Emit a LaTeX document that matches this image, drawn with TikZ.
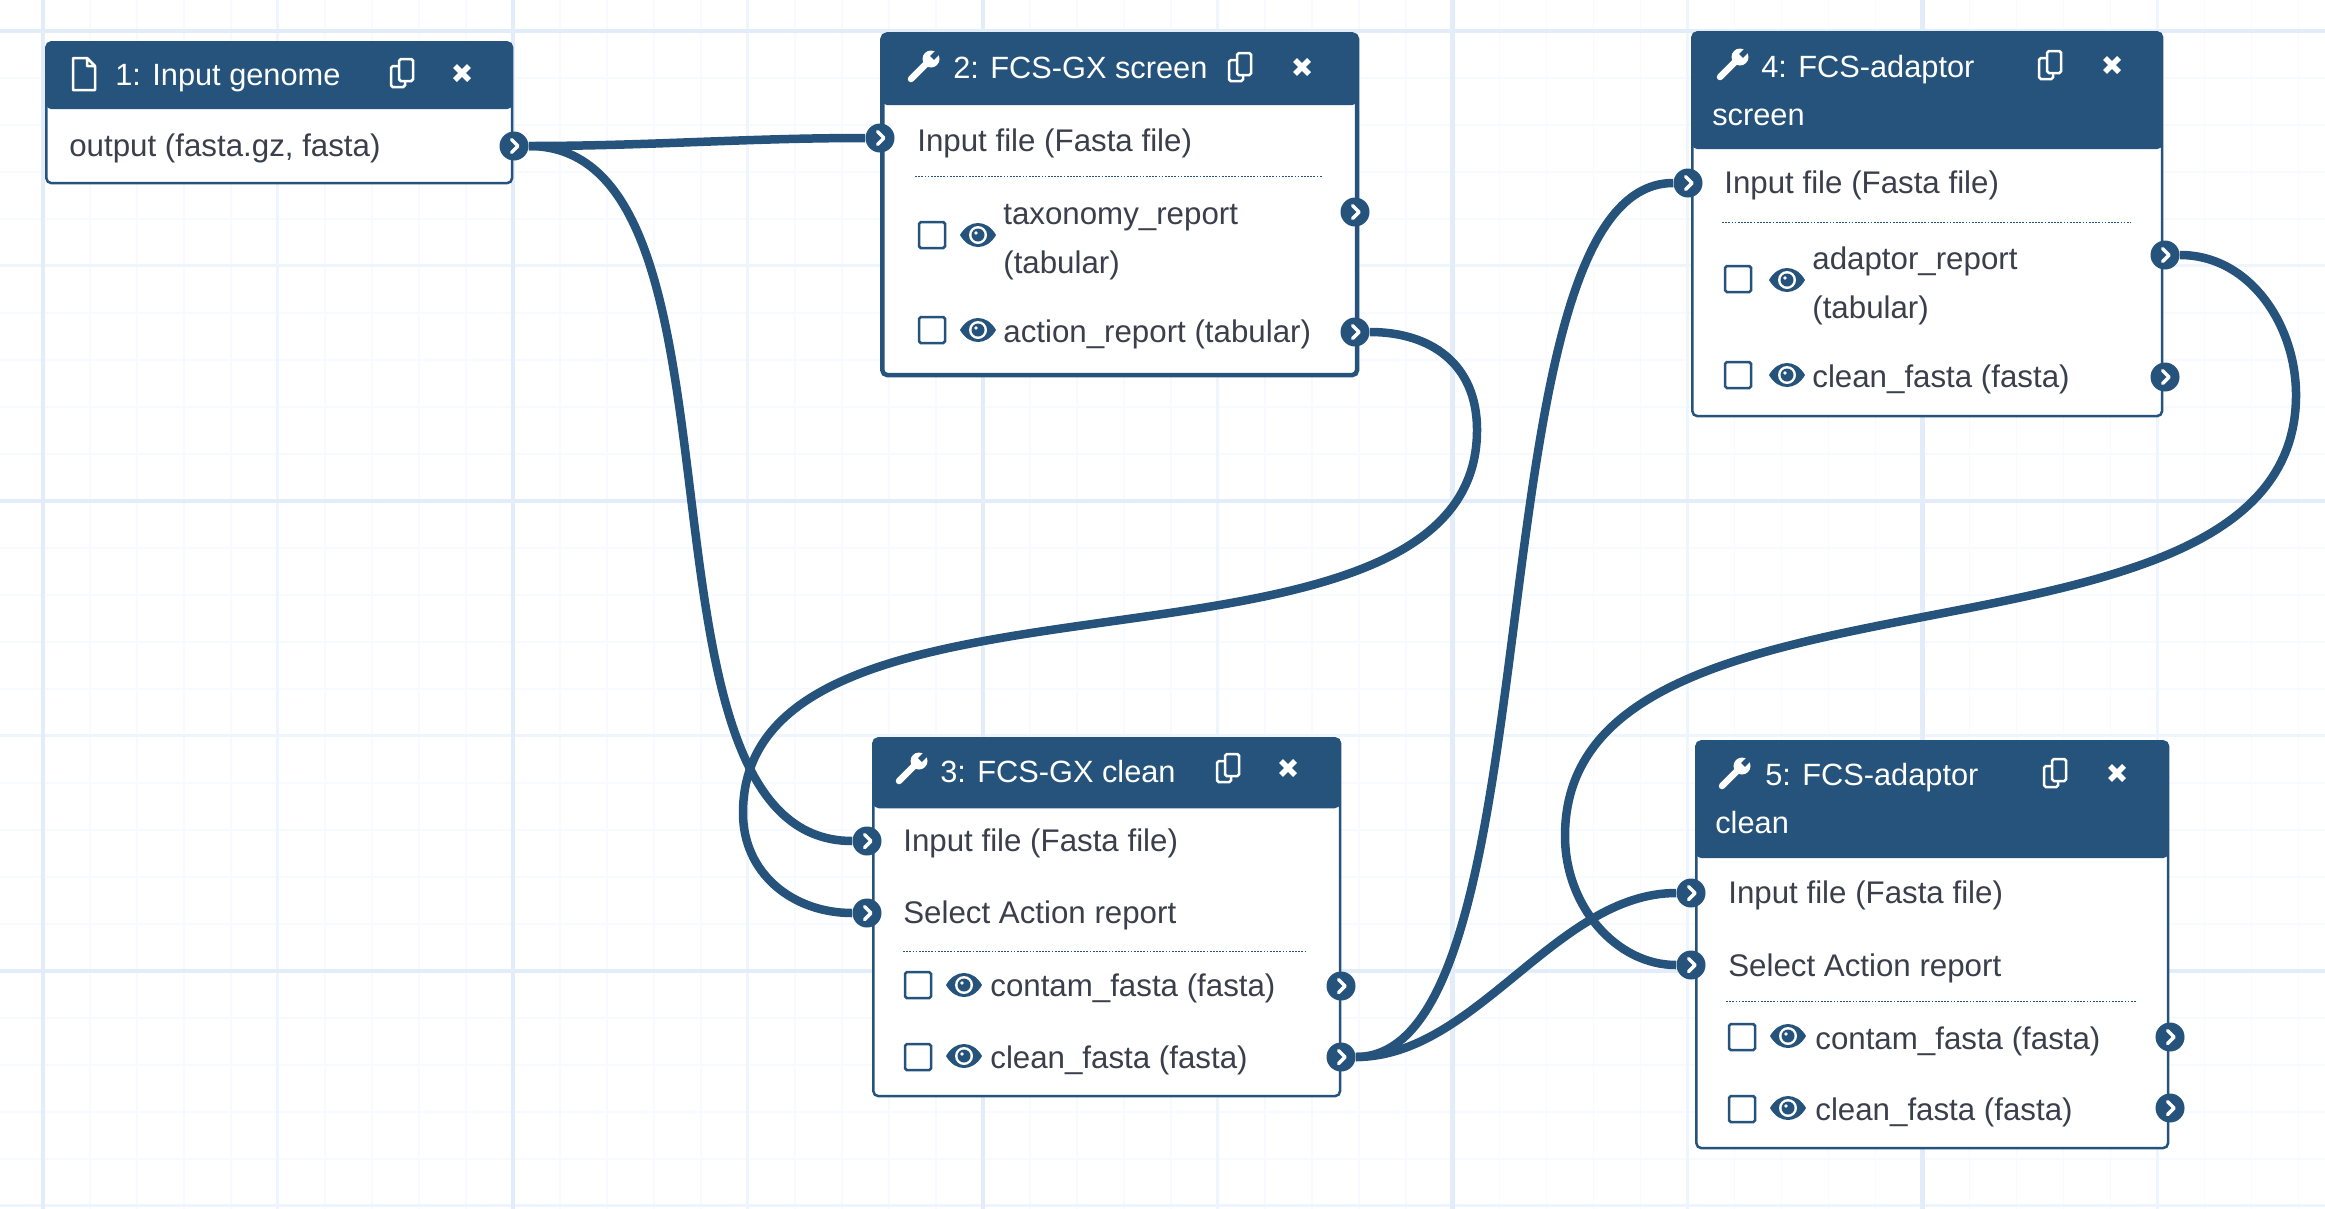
\documentclass[tikz,border=0pt]{standalone}
\usepackage{fontspec}
\setmainfont{Liberation Sans}
\definecolor{galaxy}{HTML}{25537B}
\definecolor{textcol}{HTML}{3A3F4B}
\definecolor{gridlight}{HTML}{F7FAFE}
\definecolor{gridmid}{HTML}{EEF5FC}
\definecolor{gridmajor}{HTML}{E3EDF9}

\begin{document}
\begin{tikzpicture}[
  x=0.02cm, y=-0.02cm,
  stepbox/.style   = {rectangle, draw=galaxy, fill=white, anchor=north west, inner sep=0pt, rounded corners=3pt, line width=.05cm,
                      path picture={\fill[galaxy] (path picture bounding box.north west) rectangle ([yshift=-#1]path picture bounding box.north east);}},
  title/.style     = {anchor=west, white, inner sep=0pt, font=\fontsize{17.5}{26}\selectfont, text height=13pt, text depth=.6pt},
  rowtext/.style   = {anchor=west, textcol, inner sep=0pt, font=\fontsize{17.8}{26.6}\selectfont, text height=13pt, text depth=.6pt},
  tworow/.style    = {anchor=west, textcol, inner sep=0pt, font=\fontsize{17.8}{27.5}\selectfont, align=left},
  port/.style      = {circle, fill=galaxy, minimum size=.58cm, inner sep=0pt,
                      path picture={\draw[white, line width=.07cm, line cap=round, line join=round]
                        ([shift={(-.05cm,.13cm)}]path picture bounding box.center) -- ([shift={(.08cm,0cm)}]path picture bounding box.center) -- ([shift={(-.05cm,-.13cm)}]path picture bounding box.center);}},
  checkbox/.style  = {rectangle, draw=galaxy, fill=white, minimum size=.52cm, inner sep=0pt, line width=.05cm, rounded corners=1pt},
  wire/.style      = {draw=galaxy, line width=.17cm},
  rowsep/.style    = {draw=galaxy, line width=.02cm, dash pattern=on 1pt off .8pt},
  eye/.pic         = {\fill[galaxy] (-18,0) .. controls (-9,-16) and (9,-16) .. (18,0) .. controls (9,16) and (-9,16) .. cycle;
                      \fill[white] (0,0) circle (9); \fill[galaxy] (0,0) circle (6.5); \fill[white] (-2,-2) circle (1.8);},
  wrench/.pic      = {\fill[white] (8,-8) circle (8.5);
                      \draw[white, line width=.13cm, line cap=round] (-12,12) -- (6,-6);
                      \draw[galaxy, line width=.11cm] (9,-9) -- (20,-20);},
  copyicon/.pic    = {\draw[white, line width=.05cm, rounded corners=1pt] (-11,-7) rectangle (3,14);
                      \draw[white, fill=galaxy, line width=.05cm, rounded corners=1pt] (-3,-14) rectangle (11,8);},
  closeicon/.pic   = {\draw[white, line width=.11cm] (-7,-7) -- (7,7) (-7,7) -- (7,-7);},
  fileicon/.pic    = {\draw[white, line width=.05cm, line join=round] (-11,-16) -- (3,-16) -- (11,-8) -- (11,16) -- (-11,16) -- cycle (3,-16) -- (3,-8) -- (11,-8);},
  ]
  \useasboundingbox (0,0) rectangle (2325,1208);
  % canvas grid
  \begin{scope}
    \clip (0,0) rectangle (2325,1208);
    \draw[shift={(43,31)}, gridlight, line width=.03cm, step=.94cm] (-47,-47) grid (2350,1222);
    \draw[shift={(43,31)}, gridmid, line width=.06cm, step=4.7cm] (-47,-47) grid (2350,1222);
    \draw[shift={(43,31)}, gridmajor, line width=.09cm, step=9.4cm] (-47,-47) grid (2350,1222);
  \end{scope}
  % step 1
  \node[stepbox=1.34cm, minimum width=9.32cm, minimum height=2.82cm] (step1) at (45,41) {};
  \pic at (84,74) {fileicon};
  \node[title] (title1) at (115,75) {1: Input genome};
  \pic at (402,73) {copyicon};
  \pic at (462,73) {closeicon};
  \node[rowtext] (output1) at (69,146) {output (fasta.gz, fasta)};
  \node[port] (out1) at (514,146) {};
  % step 2
  \node[stepbox=1.42cm, minimum width=9.5cm, minimum height=6.82cm, line width=.09cm] (step2) at (880,32) {};
  \pic at (923,67) {wrench};
  \node[title] (title2) at (953,68) {2: FCS-GX screen};
  \pic at (1240,67) {copyicon};
  \pic at (1302,67) {closeicon};
  \node[rowtext] (input2) at (917,141) {Input file (Fasta file)};
  \node[port] (in2) at (880,138) {};
  \draw[rowsep] (915,176) -- (1322,176);
  \node[checkbox] (check2a) at (932,235) {};
  \pic at (978,235) {eye};
  \node[tworow] (taxonomy2) at (1003,242) {taxonomy\_report\\(tabular)};
  \node[port] (tax2) at (1355,212) {};
  \node[checkbox] (check2b) at (932,330) {};
  \pic at (978,330) {eye};
  \node[rowtext] (action2) at (1003,332) {action\_report (tabular)};
  \node[port] (act2) at (1355,332) {};
  % step 3
  \node[stepbox=1.4cm, minimum width=9.34cm, minimum height=7.16cm] (step3) at (872,737) {};
  \pic at (911,769) {wrench};
  \node[title] (title3) at (940,772) {3: FCS-GX clean};
  \pic at (1228,768) {copyicon};
  \pic at (1288,768) {closeicon};
  \node[rowtext] (input3) at (903,841) {Input file (Fasta file)};
  \node[port] (in3) at (867,841) {};
  \node[rowtext] (select3) at (903,913) {Select Action report};
  \node[port] (sel3) at (867,913) {};
  \draw[rowsep] (903,951) -- (1306,951);
  \node[checkbox] (check3a) at (918,985) {};
  \pic at (964,985) {eye};
  \node[rowtext] (contam3) at (990,986) {contam\_fasta (fasta)};
  \node[port] (con3) at (1341,986) {};
  \node[checkbox] (check3b) at (918,1057) {};
  \pic at (964,1056) {eye};
  \node[rowtext] (clean3) at (990,1058) {clean\_fasta (fasta)};
  \node[port] (cln3) at (1341,1057) {};
  % step 4
  \node[stepbox=2.34cm, minimum width=9.4cm, minimum height=7.68cm] (step4) at (1691,31) {};
  \pic at (1732,65) {wrench};
  \node[title] (title4) at (1761,67) {4: FCS-adaptor};
  \node[title] (second4) at (1712,115) {screen};
  \pic at (2050,65) {copyicon};
  \pic at (2112,65) {closeicon};
  \node[rowtext] (input4) at (1724,183) {Input file (Fasta file)};
  \node[port] (in4) at (1688,183) {};
  \draw[rowsep] (1722,222) -- (2130,222);
  \node[checkbox] (check4a) at (1738,279) {};
  \pic at (1787,280) {eye};
  \node[tworow] (adaptor4) at (1812,286) {adaptor\_report\\(tabular)};
  \node[port] (ada4) at (2165,255) {};
  \node[checkbox] (check4b) at (1738,375) {};
  \pic at (1787,375) {eye};
  \node[rowtext] (clean4) at (1812,377) {clean\_fasta (fasta)};
  \node[port] (cln4) at (2165,377) {};
  % step 5
  \node[stepbox=2.34cm, minimum width=9.44cm, minimum height=8.14cm] (step5) at (1695,740) {};
  \pic at (1734,774) {wrench};
  \node[title] (title5) at (1765,775) {5: FCS-adaptor};
  \node[title] (second5) at (1715,823) {clean};
  \pic at (2055,773) {copyicon};
  \pic at (2117,773) {closeicon};
  \node[rowtext] (input5) at (1728,893) {Input file (Fasta file)};
  \node[port] (in5) at (1691,893) {};
  \node[rowtext] (select5) at (1728,966) {Select Action report};
  \node[port] (sel5) at (1691,965) {};
  \draw[rowsep] (1726,1001) -- (2136,1001);
  \node[checkbox] (check5a) at (1742,1037) {};
  \pic at (1788,1036) {eye};
  \node[rowtext] (contam5) at (1815,1039) {contam\_fasta (fasta)};
  \node[port] (con5) at (2170,1037) {};
  \node[checkbox] (check5b) at (1742,1109) {};
  \pic at (1788,1108) {eye};
  \node[rowtext] (clean5) at (1815,1110) {clean\_fasta (fasta)};
  \node[port] (cln5) at (2170,1108) {};
  % bends of the long connectors
  \coordinate (actbendA) at (1477,430);
  \coordinate (actbendB) at (743,813);
  \coordinate (adabendA) at (2296,395);
  \coordinate (adabendB) at (1565,836);
  % connectors
  \draw[wire] (out1.east) .. controls +(120,0) and +(-120,0) .. (in2.west);
  \draw[wire] (out1.east) .. controls +(238,0) and +(-238,0) .. (in3.west);
  \draw[wire] (act2.east) .. controls +(60,0) and +(0,-67) .. (actbendA) .. controls +(0,280) and +(0,-280) .. (actbendB) .. controls +(0,60) and +(-60,0) .. (sel3.west);
  \draw[wire] (cln3.east) .. controls +(205,0) and +(-205,0) .. (in4.west);
  \draw[wire] (cln3.east) .. controls +(120,0) and +(-120,0) .. (in5.west);
  \draw[wire] (ada4.east) .. controls +(70,0) and +(0,-70) .. (adabendA) .. controls +(0,300) and +(0,-300) .. (adabendB) .. controls +(0,70) and +(-60,0) .. (sel5.west);
\end{tikzpicture}
\end{document}
